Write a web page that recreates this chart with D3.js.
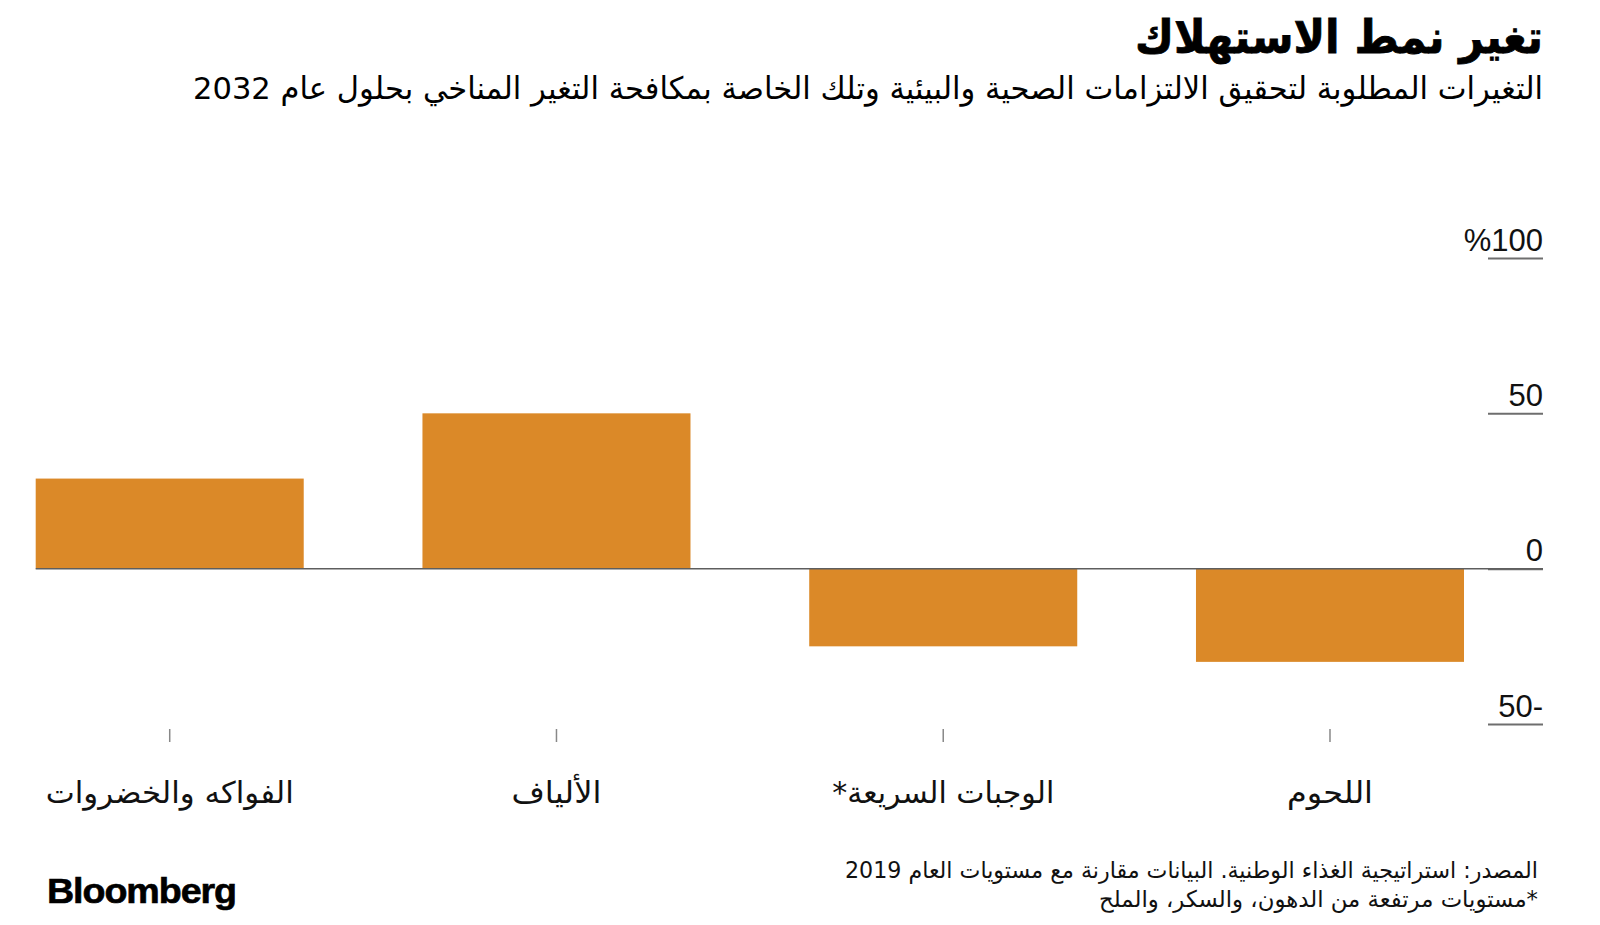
<!DOCTYPE html>
<html><head><meta charset="utf-8">
<script src="https://cdn.jsdelivr.net/npm/d3@7/dist/d3.min.js"></script>
<style>
html,body{margin:0;padding:0;background:#fff;}
svg{display:block;}
</style></head>
<body>
<svg id="chart" width="1600" height="925"></svg>
<script>
// ---- data ----
const categories = ["اللحوم", "الوجبات السريعة*", "الألياف", "الفواكه والخضروات"];
const values = [-30, -25, 50, 29];
const yTicks = [-50, 0, 50, 100];
const yTickLabels = ["50-", "0", "50", "%100"];
const titleText = "تغير نمط الاستهلاك";
const subtitleText = "التغيرات المطلوبة لتحقيق الالتزامات الصحية والبيئية وتلك الخاصة بمكافحة التغير المناخي بحلول عام 2032";
const sourceLines = ["المصدر: استراتيجية الغذاء الوطنية. البيانات مقارنة مع مستويات العام 2019", "*مستويات مرتفعة من الدهون، والسكر، والملح"];
const labelWidths = [86, 222, 90, 248];

const svg = d3.select("#chart");
const arFont = "'DejaVu Sans', sans-serif";
const numFont = "'Liberation Sans', Arial, sans-serif";
const rightEdge = 1543;

const x = d3.scaleBand().domain(categories).range([1464, 35.7]).paddingInner(0.307).paddingOuter(0);
const y = d3.scaleLinear().domain([-50, 100]).range([724, 258]);

// title
svg.append("text").attr("x", rightEdge).attr("y", 53)
  .attr("direction", "rtl").attr("text-anchor", "start")
  .attr("font-family", arFont).attr("font-weight", "bold").attr("font-size", 46)
  .attr("textLength", 408).attr("lengthAdjust", "spacingAndGlyphs")
  .attr("stroke", "#000").attr("stroke-width", 0.8)
  .attr("fill", "#000").text(titleText);
svg.append("text").attr("x", rightEdge).attr("y", 99)
  .attr("direction", "rtl").attr("text-anchor", "start")
  .attr("font-family", arFont).attr("font-size", 31)
  .attr("textLength", 1350).attr("lengthAdjust", "spacingAndGlyphs")
  .attr("fill", "#000").text(subtitleText);

// y axis tick lines and labels
const yAxis = d3.axisRight(y).tickValues(yTicks).tickSize(0)
  .tickFormat((d, i) => yTickLabels[i]);
const gy = svg.append("g").attr("transform", `translate(${rightEdge},0)`).call(yAxis);
gy.select(".domain").remove();
gy.selectAll(".tick text").attr("x", 0).attr("dy", -8)
  .attr("text-anchor", "end").attr("font-family", numFont).attr("font-size", 31).attr("fill", "#111");
gy.selectAll(".tick").append("line")
  .attr("x1", -55).attr("x2", 0).attr("y1", 0).attr("y2", 0)
  .attr("stroke", "#6e6e6e").attr("stroke-width", 2);

// bars
svg.append("g").selectAll("rect").data(values).join("rect")
  .attr("x", (d, i) => x(categories[i]))
  .attr("width", x.bandwidth())
  .attr("y", d => Math.min(y(d), y(0)))
  .attr("height", d => Math.abs(y(d) - y(0)))
  .attr("fill", "#db8928");

// zero line
svg.append("line").attr("x1", 35.7).attr("x2", rightEdge)
  .attr("y1", y(0)).attr("y2", y(0)).attr("stroke", "#5e5e5e").attr("stroke-width", 1.5);

// category ticks & labels
const gx = svg.append("g");
gx.selectAll("line").data(categories).join("line")
  .attr("x1", d => x(d) + x.bandwidth() / 2).attr("x2", d => x(d) + x.bandwidth() / 2)
  .attr("y1", 729).attr("y2", 742).attr("stroke", "#888").attr("stroke-width", 1.5);
gx.selectAll("text").data(categories).join("text")
  .attr("x", d => x(d) + x.bandwidth() / 2).attr("y", 803)
  .attr("direction", "rtl").attr("text-anchor", "middle")
  .attr("font-family", arFont).attr("font-size", 30)
  .attr("textLength", (d, i) => labelWidths[i]).attr("lengthAdjust", "spacingAndGlyphs")
  .attr("fill", "#111").text(d => d);

// source
const srcW = [693, 439];
svg.append("g").selectAll("text").data(sourceLines).join("text")
  .attr("x", 1538).attr("y", (d, i) => 878 + i * 29)
  .attr("direction", "rtl").attr("text-anchor", "start")
  .attr("font-family", arFont).attr("font-size", 23)
  .attr("textLength", (d, i) => srcW[i]).attr("lengthAdjust", "spacingAndGlyphs")
  .attr("fill", "#111").text(d => d);

// logo
svg.append("text").attr("x", 47).attr("y", 903)
  .attr("font-family", numFont).attr("font-weight", "bold").attr("font-size", 35)
  .attr("letter-spacing", -1).attr("textLength", 189).attr("lengthAdjust", "spacingAndGlyphs")
  .attr("stroke", "#000").attr("stroke-width", 0.6)
  .attr("fill", "#000").text("Bloomberg");
</script>
</body></html>
